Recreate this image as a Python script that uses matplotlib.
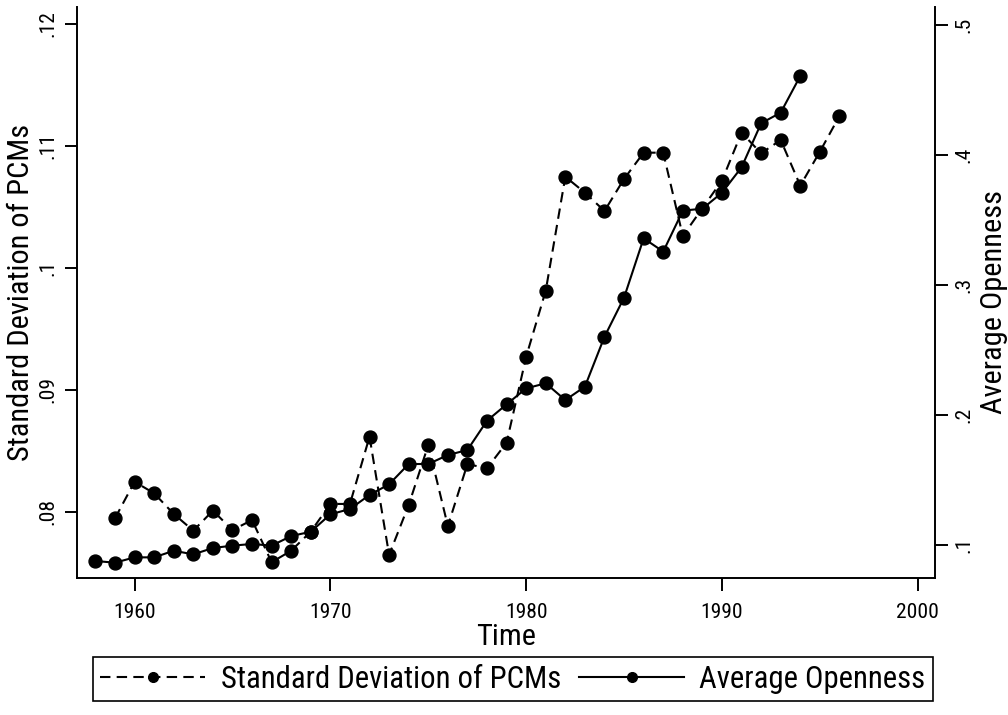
import matplotlib
matplotlib.use("Agg")
import matplotlib.pyplot as plt
from matplotlib import font_manager

# ---- data ----
years_sd = list(range(1959, 1997))
sd_pcm = [0.07948, 0.08248, 0.08153, 0.07984, 0.07847, 0.08011, 0.07852, 0.07934,
          0.07588, 0.07683, 0.07839, 0.08066, 0.08066, 0.08617, 0.07648, 0.08057,
          0.08549, 0.07885, 0.08393, 0.08358, 0.08568, 0.09273, 0.09814, 0.10748,
          0.10617, 0.10467, 0.10730, 0.10945, 0.10945, 0.10262, 0.10490, 0.10716,
          0.11109, 0.10940, 0.11049, 0.10675, 0.10953, 0.11246]

years_open = list(range(1958, 1995))
openness = [0.0877, 0.0864, 0.0905, 0.0905, 0.0956, 0.0928, 0.0977, 0.0995,
            0.1008, 0.0995, 0.1069, 0.1102, 0.1236, 0.1277, 0.1385, 0.1467,
            0.1623, 0.1623, 0.1692, 0.1731, 0.1956, 0.2082, 0.2205, 0.2244,
            0.2115, 0.2218, 0.2602, 0.2903, 0.3359, 0.3257, 0.3572, 0.3587,
            0.3710, 0.3905, 0.4244, 0.4326, 0.4608]

x_ticks = [1960, 1970, 1980, 1990, 2000]
x_ticklabels = ["1960", "1970", "1980", "1990", "2000"]
left_ticks = [0.08, 0.09, 0.10, 0.11, 0.12]
left_ticklabels = [".08", ".09", ".1", ".11", ".12"]
right_ticks = [0.1, 0.2, 0.3, 0.4, 0.5]
right_ticklabels = [".1", ".2", ".3", ".4", ".5"]

label_sd = "Standard Deviation of PCMs"
label_open = "Average Openness"
label_x = "Time"

# ---- pick a narrow sans font if one is installed ----
entries = [(f.name, str(f.stretch)) for f in font_manager.fontManager.ttflist]
names = {n for n, _ in entries}
cond = {"condensed", "semi-condensed", "extra-condensed", "ultra-condensed"}
family, stretch = None, "normal"
for n in ["Liberation Sans Narrow", "Arial Narrow", "Roboto Condensed",
          "Open Sans Condensed", "Noto Sans Condensed", "DejaVu Sans Condensed"]:
    if n in names:
        family = n
        break
if family is None:
    for n in ["Roboto", "Noto Sans", "Open Sans", "DejaVu Sans"]:
        if any(nm == n and st in cond for nm, st in entries):
            family, stretch = n, "condensed"
            break
if family is None:
    family = "Liberation Sans"
plt.rcParams["font.family"] = [family, "DejaVu Sans"]
plt.rcParams["font.stretch"] = stretch

W, H = 1008, 715
fig = plt.figure(figsize=(W / 100, H / 100), dpi=100)
renderer = fig.canvas.get_renderer()


def fit_size(text, target_px):
    t = fig.text(0, 0, text, fontsize=10)
    w = t.get_window_extent(renderer).width
    t.remove()
    return 10 * target_px / w


fs_tick = fit_size("1960", 42)
fs_title = fit_size(label_sd, 336)
fs_leg = fit_size(label_sd, 340)

L, R, T, B = 77, 935, 7, 578
ax = fig.add_axes([L / W, 1 - B / H, (R - L) / W, (B - T) / H])
ax2 = ax.twinx()

lw = 1.5
ms = 9.3
l1, = ax.plot(years_sd, sd_pcm, color="black", lw=lw, dashes=(5, 3),
              marker="o", ms=ms, mfc="black", mec="black")
l2, = ax2.plot(years_open, openness, color="black", lw=lw, linestyle="-",
               marker="o", ms=ms, mfc="black", mec="black")

ax.set_xlim(1957.06, 2000.88)
ax.set_ylim(0.07459, 0.12139)
ax2.set_ylim(0.07462, 0.51385)

for a in (ax, ax2):
    a.spines["top"].set_visible(False)
    for s in ("left", "right", "bottom"):
        a.spines[s].set_linewidth(1.4)
ax.spines["right"].set_visible(False)
ax2.spines["left"].set_visible(False)
ax2.spines["bottom"].set_visible(False)

ax.set_xticks(x_ticks)
ax.set_xticklabels(x_ticklabels)
ax.set_yticks(left_ticks)
ax.set_yticklabels(left_ticklabels, rotation=90, va="center")
ax2.set_yticks(right_ticks)
ax2.set_yticklabels(right_ticklabels, rotation=90, va="center")

ax.tick_params(axis="both", direction="out", length=9, width=1.4,
               labelsize=fs_tick, colors="black")
ax.tick_params(axis="x", pad=9)
ax.tick_params(axis="y", pad=5)
ax2.tick_params(axis="y", direction="out", length=9, width=1.4,
                labelsize=fs_tick, pad=5)

ax.set_ylabel(label_sd, fontsize=fs_title, va="center")
ax.yaxis.set_label_coords((21 - L) / (R - L), (B - 292) / (B - T))
ax2.set_ylabel(label_open, fontsize=fs_title, va="center", rotation=90)
ax2.yaxis.set_label_position("right")
ax2.yaxis.set_label_coords((980 - L) / (R - L), (B - 302) / (B - T))
ax.set_xlabel(label_x, fontsize=fs_title, va="center")
ax.xaxis.set_label_coords(0.5, (B - 637) / (B - T))

leg = fig.legend([l1, l2], [label_sd, label_open], ncol=2,
                 loc="center", bbox_to_anchor=(513 / W, 1 - 679 / H),
                 fontsize=fs_leg, frameon=True, fancybox=False,
                 edgecolor="black", framealpha=1, handlelength=3.4,
                 handletextpad=0.5, columnspacing=0.6, borderpad=0.25,
                 borderaxespad=0, markerscale=0.75)
leg.get_frame().set_linewidth(1.2)

fig.savefig("out.png", dpi=100)
